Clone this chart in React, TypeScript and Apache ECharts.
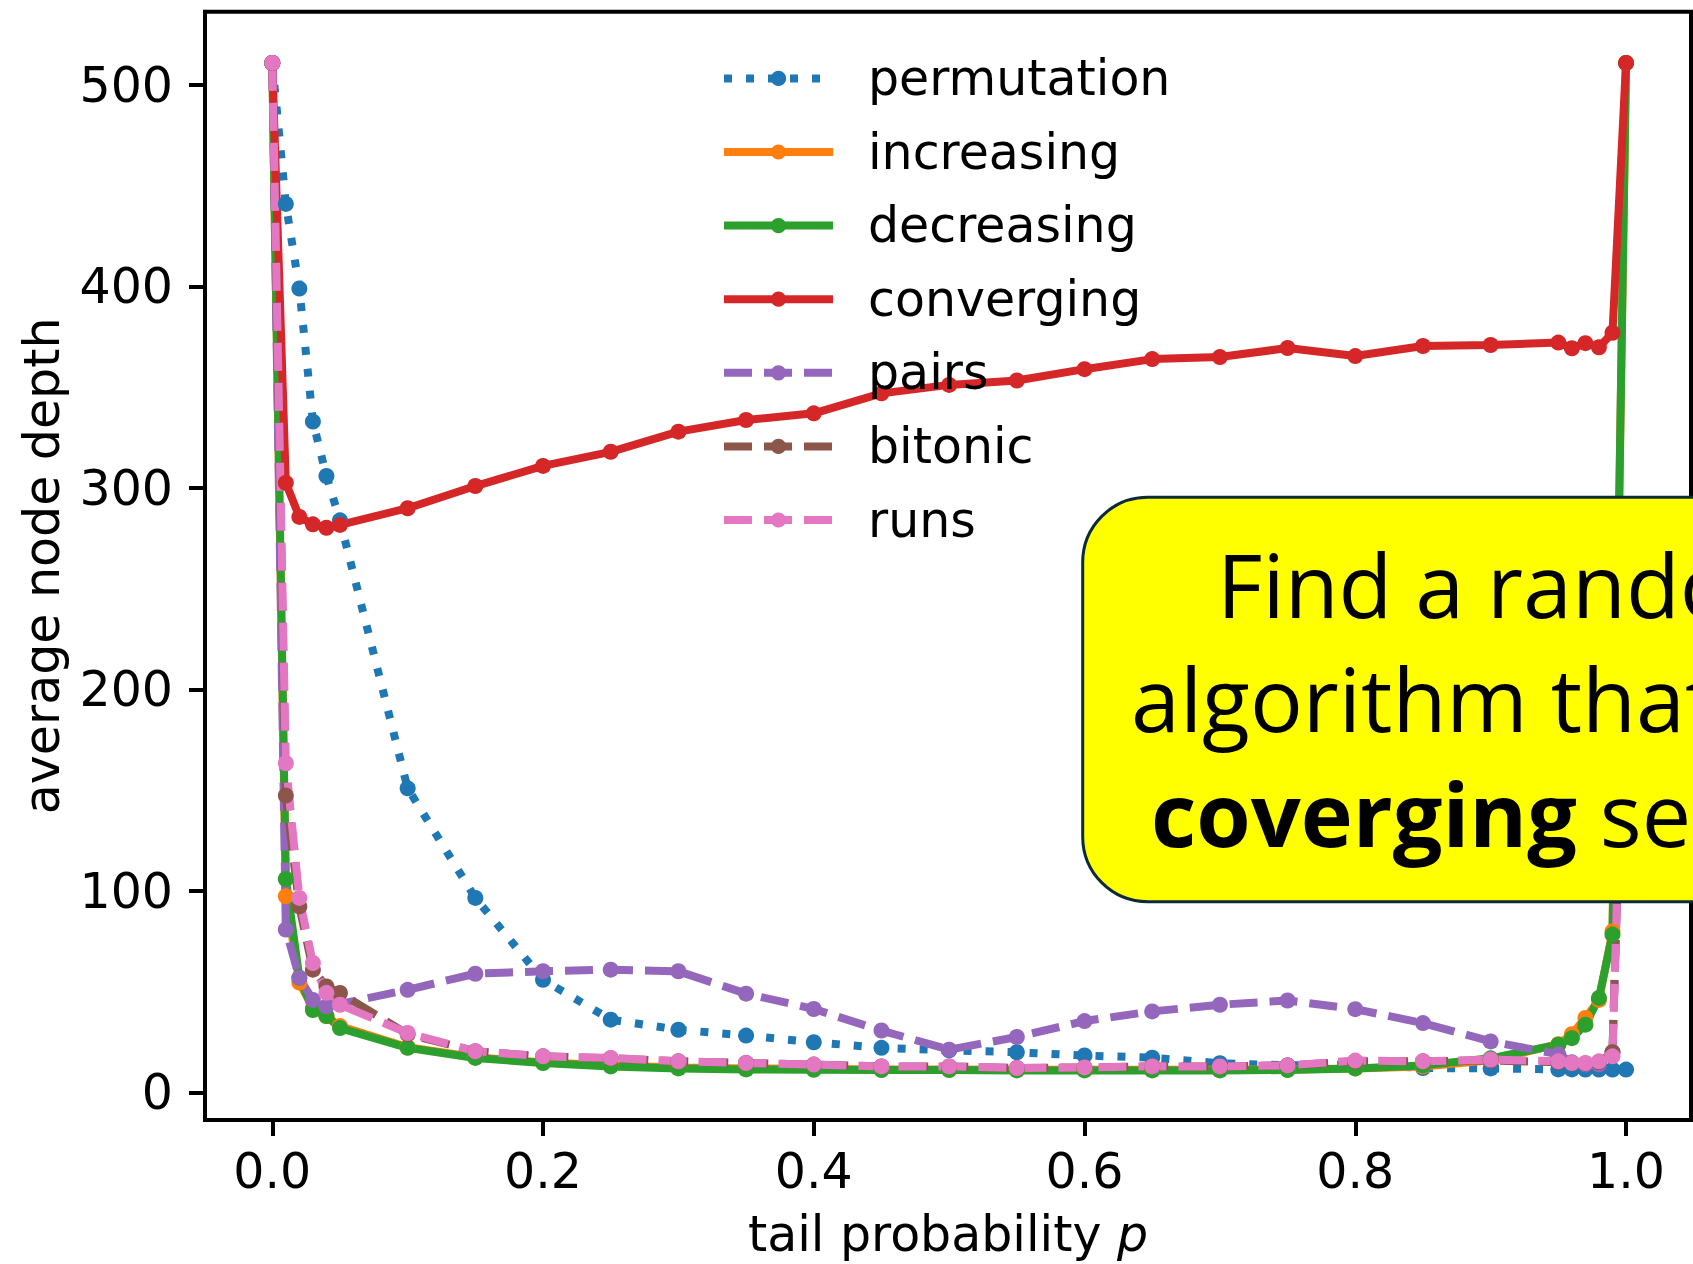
import React, { useEffect, useRef } from 'react';
import * as echarts from 'echarts';

const pValues = [0, 0.01, 0.02, 0.03, 0.04, 0.05, 0.1, 0.15, 0.2, 0.25, 0.3, 0.35, 0.4, 0.45, 0.5, 0.55, 0.6, 0.65, 0.7, 0.75, 0.8, 0.85, 0.9, 0.95, 0.96, 0.97, 0.98, 0.99, 1.0];

const permutation = [511, 441, 399, 333, 306, 284, 151, 96.6, 56, 36.2, 31.2, 28.3, 25, 22.2, 21, 20, 18.4, 17.3, 14.6, 13.5, 14, 12.2, 12, 11.5, 11.5, 11.4, 11.4, 11.4, 11.4];
const increasing = [511, 97.4, 54.6, 42, 38, 33, 22.5, 17.5, 15, 13.5, 12.5, 12, 11.8, 11.5, 11.5, 11.3, 11.3, 11.3, 11.3, 11.5, 12, 13, 16, 24, 29, 37, 46, 80, 511];
const decreasing = [511, 106, 57, 41, 38, 32, 22.2, 17.2, 14.7, 13, 12, 11.5, 11.3, 11.2, 11.2, 11, 11, 11, 11, 11.2, 12, 13.5, 17, 23.8, 27, 33.7, 47, 78.4, 511];
const converging = [511, 302.6, 285.7, 282, 280.3, 281.7, 290, 301, 311, 318, 328, 333.8, 337.1, 347, 351.2, 353.4, 359, 364, 365, 369.5, 365.5, 370.5, 371, 372.2, 369.4, 371.9, 369.9, 377.1, 511];
const pairs = [511, 80.9, 56.9, 46, 42.8, 44, 51, 59, 60.2, 61, 60.2, 49.1, 41.5, 30.8, 21.3, 27.6, 35.5, 40.3, 43.6, 45.7, 41.4, 34.5, 25.4, 19, 15, 14, 14, 20, 256];
const bitonic = [511, 147.4, 92.4, 61, 52.7, 49.4, 29, 20.5, 18, 17, 15.5, 14.7, 13.9, 13, 13, 12.2, 12.5, 13, 13, 13.5, 15.5, 15.5, 16, 15, 14.5, 14.5, 15, 20, 256];
const runs = [511, 163.5, 96.6, 64.3, 49.5, 43.6, 29.6, 20.5, 18, 17.2, 15.5, 14.7, 13.9, 13, 13, 12.2, 12.5, 13, 13, 13.5, 15.9, 15.5, 16.4, 15.5, 14.7, 14.7, 15.5, 18, 256];

const seriesNames = ['permutation', 'increasing', 'decreasing', 'converging', 'pairs', 'bitonic', 'runs'];
const seriesValues = [permutation, increasing, decreasing, converging, pairs, bitonic, runs];
const seriesColors = ['#1f77b4', '#ff7f0e', '#2ca02c', '#d62728', '#9467bd', '#8c564b', '#e377c2'];
const seriesDash: any[] = [[8, 14], 'solid', 'solid', 'solid', [28, 12], [28, 12], [28, 12]];

const xTicks = [0, 0.2, 0.4, 0.6, 0.8, 1.0];
const yTicks = [0, 100, 200, 300, 400, 500];

const xLabel = 'tail probability {i|p}';
const yLabel = 'average node depth';
const boxLine1 = 'Find a random';
const boxLine2 = 'algorithm that';
const boxBold = 'coverging';
const boxRest = ' sequences';

const FONT = 'DejaVu Sans';
const BOXFONT = 'Open Sans';

export default function App() {
  const ref = useRef<HTMLDivElement>(null);
  useEffect(() => {
    const chart = echarts.init(ref.current!, null, { renderer: 'svg' });
    const series = seriesNames.map((name, k) => ({
      type: 'line',
      name,
      data: pValues.map((p, i) => [p, seriesValues[k][i]]),
      symbol: 'circle',
      symbolSize: 16,
      showAllSymbol: true,
      silent: true,
      lineStyle: { color: seriesColors[k], width: 8, type: seriesDash[k], cap: 'butt' },
      itemStyle: { color: seriesColors[k] },
      emphasis: { disabled: true },
    }));
    chart.setOption({
      animation: false,
      backgroundColor: '#ffffff',
      grid: { left: 205, top: 11.7, right: 2, bottom: 143.5, show: true, borderColor: '#000', borderWidth: 4, backgroundColor: 'transparent' },
      xAxis: {
        type: 'value', min: -0.0497, max: 1.048,
        name: xLabel, nameLocation: 'middle', nameGap: 90,
        nameTextStyle: { fontFamily: FONT, fontSize: 49, color: '#000', rich: { i: { fontFamily: FONT, fontSize: 49, fontStyle: 'italic', color: '#000' } } },
        axisLine: { show: true, onZero: false, lineStyle: { color: '#000', width: 4 } },
        axisTick: { show: true, length: 16, customValues: xTicks, lineStyle: { color: '#000', width: 4 } },
        axisLabel: { customValues: xTicks, margin: 27, fontFamily: FONT, fontSize: 49, color: '#000', formatter: (v: number) => v.toFixed(1) },
        splitLine: { show: false },
      },
      yAxis: {
        type: 'value', min: -13.6, max: 536.4,
        name: yLabel, nameLocation: 'middle', nameGap: 138,
        nameTextStyle: { fontFamily: FONT, fontSize: 49, color: '#000' },
        axisLine: { show: true, onZero: false, lineStyle: { color: '#000', width: 4 } },
        axisTick: { show: true, length: 16, customValues: yTicks, lineStyle: { color: '#000', width: 4 } },
        axisLabel: { customValues: yTicks, margin: 32, fontFamily: FONT, fontSize: 49, color: '#000' },
        splitLine: { show: false },
      },
      legend: {
        orient: 'vertical', left: 720, top: 53.4, padding: 0,
        itemWidth: 109, itemHeight: 19, itemGap: 23.6,
        selectedMode: false,
        lineStyle: { width: 8 },
        textStyle: { fontFamily: FONT, fontSize: 49, color: '#000', lineHeight: 50, padding: [0, 0, 0, 30] },
        data: seriesNames,
      },
      series,
      graphic: [
        {
          type: 'rect', z: 100, silent: true,
          shape: { x: 1082.7, y: 497.3, width: 900, height: 404.4, r: 65 },
          style: { fill: '#ffff00', stroke: '#0d2a3a', lineWidth: 3 },
        },
        {
          type: 'text', z: 101, silent: true, x: 1217, y: 584,
          style: { text: boxLine1, fontFamily: BOXFONT, fontSize: 88, fill: '#000', verticalAlign: 'middle', align: 'left' },
        },
        {
          type: 'text', z: 101, silent: true, x: 1131, y: 697.5,
          style: { text: boxLine2, fontFamily: BOXFONT, fontSize: 88, fill: '#000', verticalAlign: 'middle', align: 'left' },
        },
        {
          type: 'text', z: 101, silent: true, x: 1151, y: 813,
          style: {
            text: '{b|' + boxBold + '}{r|' + boxRest + '}',
            verticalAlign: 'middle', align: 'left',
            rich: {
              b: { fontFamily: BOXFONT, fontSize: 88, fontWeight: 'bold', fill: '#000' },
              r: { fontFamily: BOXFONT, fontSize: 88, fill: '#000' },
            },
          },
        },
      ],
    });
    return () => chart.dispose();
  }, []);
  return <div ref={ref} style={{ position: 'fixed', left: 0, top: 0, width: 1693, height: 1264, background: '#fff' }} />;
}
